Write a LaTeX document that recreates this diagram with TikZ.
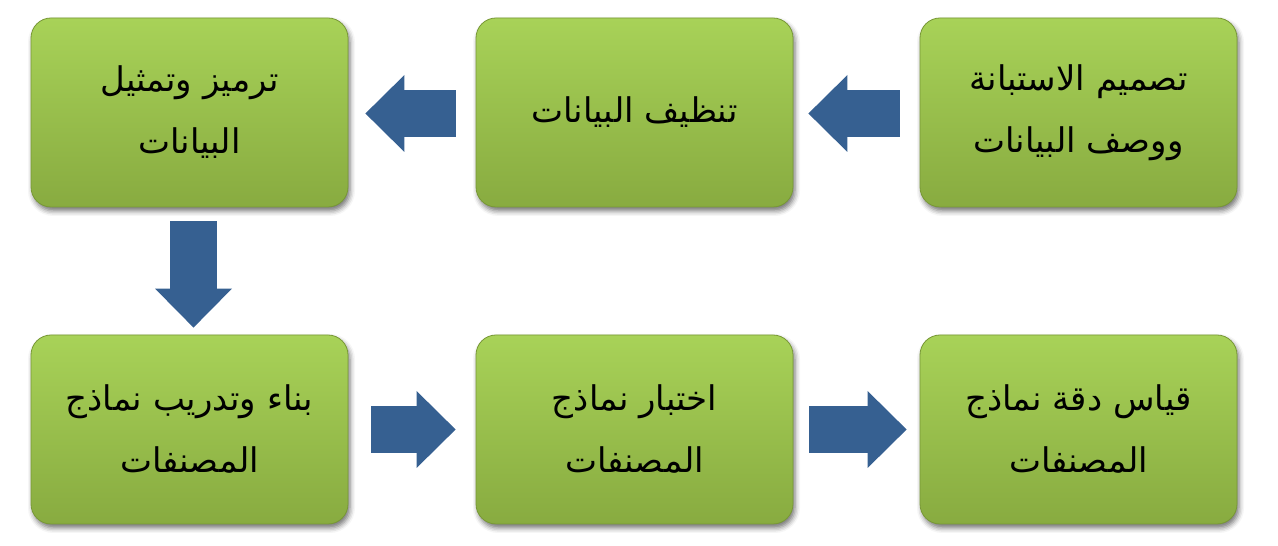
\documentclass[tikz,border=0pt]{standalone}
\usepackage{fontspec}
\newfontfamily\arabicfont[Script=Arabic]{DejaVu Sans}
\TeXXeTstate=1
\usetikzlibrary{arrows.meta,shadows.blur,calc}
\definecolor{boxtop}{RGB}{168,210,88}
\definecolor{boxbot}{RGB}{136,171,64}
\definecolor{boxedge}{RGB}{120,152,54}
\definecolor{arrowblue}{RGB}{54,96,145}
\tikzset{
  stepbox/.style={rectangle, rounded corners=20pt, minimum width=317pt, minimum height=189pt,
    inner sep=0pt, top color=boxtop, bottom color=boxbot, draw=boxedge, line width=0.8pt,
    blur shadow={shadow xshift=2pt, shadow yshift=-4pt, shadow blur radius=5pt, shadow opacity=55},
    align=center, font=\arabicfont\fontsize{34}{62}\selectfont},
  flow/.style={draw=arrowblue, line width=47pt,
    -{Triangle[width=77pt,length=39pt,line width=0pt]}}
}
\begin{document}
\begin{tikzpicture}[x=1pt,y=1pt]
\useasboundingbox (0,0) rectangle (1278,546);
\node[stepbox] (b1) at (1078.5,433.5) {\beginR تصميم الاستبانة\endR\\\beginR ووصف البيانات\endR};
\node[stepbox] (b2) at (634.5,433.5) {\beginR تنظيف البيانات\endR};
\node[stepbox] (b3) at (189.5,433.5) {\beginR ترميز وتمثيل\endR\\\beginR البيانات\endR};
\node[stepbox] (b4) at (189.5,116.5) {\beginR بناء وتدريب نماذج\endR\\\beginR المصنفات\endR};
\node[stepbox] (b5) at (634.5,116.5) {\beginR اختبار نماذج\endR\\\beginR المصنفات\endR};
\node[stepbox] (b6) at (1078.5,116.5) {\beginR قياس دقة نماذج\endR\\\beginR المصنفات\endR};
\draw[flow] ($(b1.west)+(-20,-1)$) -- ($(b2.east)+(15,-1)$);
\draw[flow] ($(b2.west)+(-20,-1)$) -- ($(b3.east)+(17,-1)$);
\draw[flow] ($(b3.south)+(4,-14)$) -- ($(b4.north)+(4,7)$);
\draw[flow] ($(b4.east)+(23,0)$) -- ($(b5.west)+(-20,0)$);
\draw[flow] ($(b5.east)+(16,0)$) -- ($(b6.west)+(-13,0)$);
\end{tikzpicture}
\end{document}
